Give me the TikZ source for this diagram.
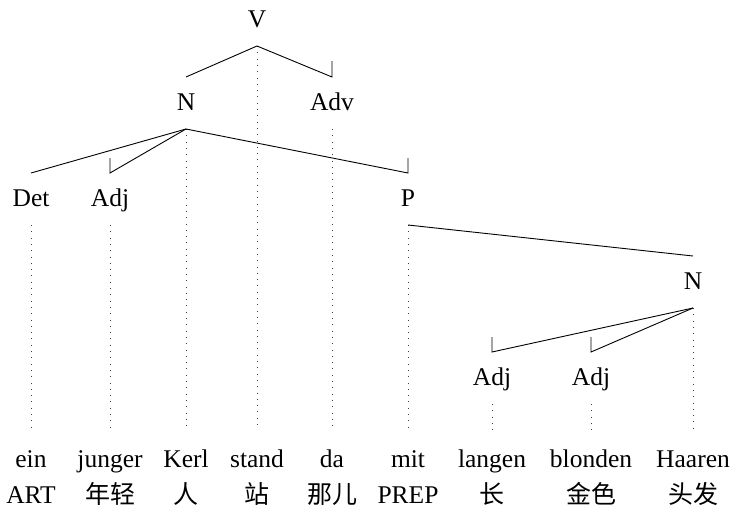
\documentclass[tikz,border=0pt]{standalone}
\usepackage{fontspec}
\setmainfont{Liberation Serif}
\newfontfamily\cjk{Noto Sans CJK SC}
\usetikzlibrary{calc}
\begin{document}
\begin{tikzpicture}[x=1pt,y=-1pt,
  lab/.style={font=\fontsize{25.5}{29}\selectfont, anchor=base, inner sep=0pt},
  gl/.style={font=\fontsize{25}{29}\selectfont, anchor=base, inner sep=0pt},
  dep/.style={line width=0.9pt, line join=miter},
  proj/.style={line width=1pt, dash pattern=on 1pt off 5.3pt, black!75}]
\useasboundingbox (0,0) rectangle (735,514);
% category labels
\node[lab] (V) at (257,27) {V};
\node[lab] (N1) at (186,110) {N};
\node[lab] (Adv) at (332,110) {Adv};
\node[lab] (Det) at (31,206) {Det};
\node[lab] (Adj1) at (110,206) {Adj};
\node[lab] (P) at (408,206) {P};
\node[lab] (N2) at (693,289) {N};
\node[lab] (Adj2) at (492,385) {Adj};
\node[lab] (Adj3) at (591,385) {Adj};
% words
\node[lab] (w1) at (31,467) {ein};
\node[lab] (w2) at (110,467) {junger};
\node[lab] (w3) at (186,467) {Kerl};
\node[lab] (w4) at (257,467) {stand};
\node[lab] (w5) at (332,467) {da};
\node[lab] (w6) at (408,467) {mit};
\node[lab] (w7) at (492,467) {langen};
\node[lab] (w8) at (591,467) {blonden};
\node[lab] (w9) at (693,467) {Haaren};
% glosses
\node[lab] (g1) at (31,503) {ART};
\node[gl] (g2) at (110,503) {\cjk 年轻};
\node[gl] (g3) at (186,503) {\cjk 人};
\node[gl] (g4) at (257,503) {\cjk 站};
\node[gl] (g5) at (332,503) {\cjk 那儿};
\node[lab] (g6) at (408,503) {PREP};
\node[gl] (g7) at (492,503) {\cjk 长};
\node[gl] (g8) at (591,503) {\cjk 金色};
\node[gl] (g9) at (693,503) {\cjk 头发};
% attachment points (below labels) and edge ends (above labels)
\foreach \n in {V,N1,Adv,Det,Adj1,P,N2,Adj2,Adj3}{
  \coordinate (\n a) at ([yshift=-19pt]\n.base);
  \coordinate (\n t) at ([yshift=33pt]\n.base);
}
\foreach \w in {w1,w2,w3,w4,w5,w6,w7,w8,w9}{
  \coordinate (\w b) at ([yshift=37pt]\w.base);
}
% projection lines
\draw[proj] (Va) -- (w4b);
\draw[proj] (N1a) -- (w3b);
\draw[proj] (Adva) -- (w5b);
\draw[proj] (Deta) -- (w1b);
\draw[proj] (Adj1a) -- (w2b);
\draw[proj] (Pa) -- (w6b);
\draw[proj] (N2a) -- (w9b);
\draw[proj] (Adj2a) -- (w7b);
\draw[proj] (Adj3a) -- (w8b);
% dependency edges
\draw[dep] (Va) -- (N1t);
\draw[dep] (Va) -- (Advt) -- ++(0,-16);
\draw[dep] (N1a) -- (Dett);
\draw[dep] (N1a) -- (Adj1t) -- ++(0,-15);
\draw[dep] (N1a) -- (Pt) -- ++(0,-15);
\draw[dep] (Pa) -- (N2t);
\draw[dep] (N2a) -- (Adj2t) -- ++(0,-15);
\draw[dep] (N2a) -- (Adj3t) -- ++(0,-15);
\end{tikzpicture}
\end{document}
